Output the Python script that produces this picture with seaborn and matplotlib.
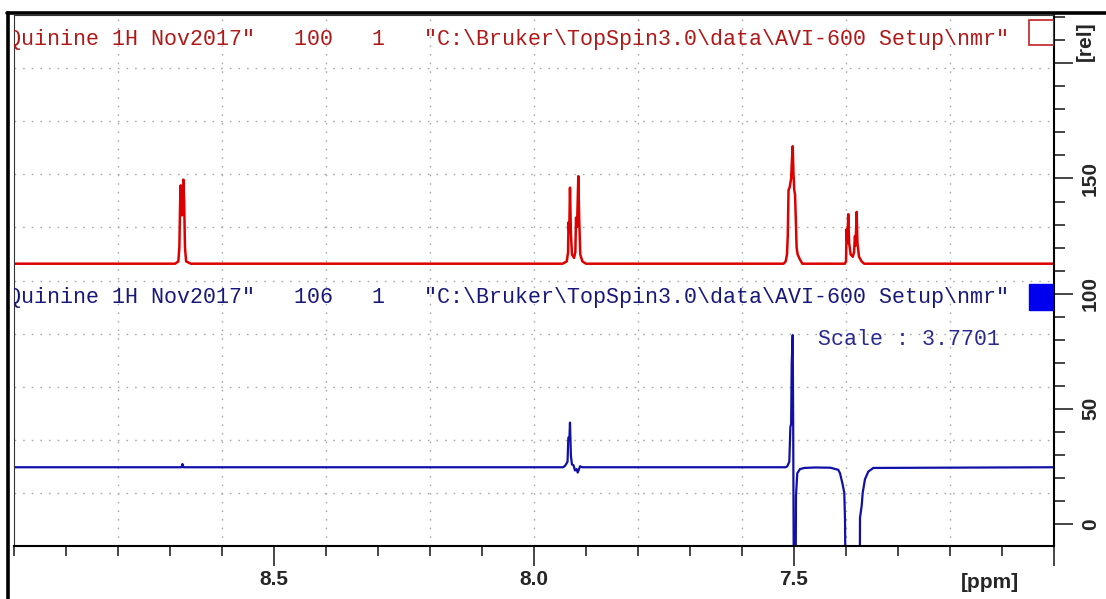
import numpy as np
import pandas as pd
import matplotlib.pyplot as plt
import matplotlib.lines as mlines
from matplotlib.patches import Rectangle
from matplotlib.ticker import MultipleLocator, FixedLocator
import seaborn as sns

# top trace (reference spectrum), vertices: ppm / rel. intensity
red_ppm = [9.0, 8.69, 8.684, 8.682, 8.6805, 8.6795, 8.678, 8.677, 8.6755, 8.6742, 8.6728, 8.6712, 8.669, 8.66,
           7.945, 7.937, 7.9345, 7.9336, 7.9322, 7.9308, 7.929, 7.927, 7.923, 7.9205, 7.9192, 7.9172, 7.9148,
           7.913, 7.911, 7.907, 7.90,
           7.52, 7.516, 7.5135, 7.512, 7.5105, 7.5085, 7.507, 7.5055, 7.504, 7.5025, 7.501, 7.4995, 7.498,
           7.4965, 7.495, 7.493, 7.489, 7.484,
           7.402, 7.4, 7.3988, 7.3975, 7.3957, 7.394, 7.391, 7.387, 7.3845, 7.3828, 7.3815, 7.3795, 7.378,
           7.375, 7.37, 7.365, 7.0]
red_int = [113, 113, 114, 120, 140, 147, 136, 134, 142, 149.5, 140, 120, 114, 113,
           113, 114, 118, 131, 127, 146, 126, 117, 115.5, 118, 133, 129, 151,
           132, 117, 114, 113,
           113, 114, 117, 125, 145, 146, 148, 150, 158, 164, 152, 145, 143,
           132, 120, 117, 115, 113,
           113, 114, 128, 122, 134.5, 122, 117, 116, 118, 125, 121, 135.5, 122,
           116, 114, 113, 113]

# bottom trace (selective experiment, scale 3.7701)
blue_ppm = [9.0, 8.678, 8.676, 8.674,
            7.944, 7.940, 7.9355, 7.934, 7.9318, 7.9308, 7.929, 7.927, 7.924, 7.9212, 7.918, 7.916, 7.913,
            7.9115, 7.907,
            7.516, 7.513, 7.509, 7.507, 7.5055, 7.5044, 7.5025, 7.5015, 7.4998, 7.4975, 7.4962, 7.4937,
            7.4885, 7.48, 7.46, 7.43, 7.415, 7.4115, 7.4063, 7.4033, 7.4019, 7.3995, 7.374, 7.3731, 7.3698,
            7.3679, 7.3635, 7.3571, 7.3475, 7.0]
blue_int = [24.6, 24.6, 26, 24.6,
            24.6, 25.3, 27, 37.4, 38, 44, 29.5, 25.8, 25.5, 23.2, 23.8, 22.3, 24,
            25, 24.6,
            24.6, 25, 27, 42, 43.5, 70, 82, 40, -60, -60, 12, 22,
            23.8, 24.3, 24.5, 24.4, 23.5, 22, 17, 13.5, 2, -60, -60, 2.6, 8,
            13.5, 19.4, 22.7, 24.3, 24.6]

red_title = 'Quinine 1H Nov2017"   100   1   "C:\\Bruker\\TopSpin3.0\\data\\AVI-600 Setup\\nmr"'
blue_title = 'Quinine 1H Nov2017"   106   1   "C:\\Bruker\\TopSpin3.0\\data\\AVI-600 Setup\\nmr"'
scale_text = 'Scale : 3.7701'
x_major = [8.5, 8.0, 7.5, 7.0]
x_labels = ['8.5', '8.0', '7.5', '']
y_major = [0, 50, 100, 150, 200]
y_labels = ['0', '50', '100', '150', '']

sns.set_style("white")
plt.rcParams['font.family'] = ['Liberation Sans', 'DejaVu Sans']

red_df = pd.DataFrame({'ppm': red_ppm, 'rel': red_int})
blue_df = pd.DataFrame({'ppm': blue_ppm, 'rel': blue_int})

fig = plt.figure(figsize=(11.06, 5.99), dpi=100)
ax = fig.add_axes([14/1106, 53/599, 1040/1106, 531/599])

xlim = (9.0, 7.0)
ylim = (-9.6, 221.0)
ax.set_xlim(*xlim)
ax.set_ylim(*ylim)

# TopSpin grid: 10 equal divisions each way
for gx in np.linspace(xlim[0], xlim[1], 11)[1:-1]:
    ax.axvline(gx, color='#aaaaaa', lw=1, ls=(0, (1.2, 5)), zorder=0)
for gy in np.linspace(ylim[0], ylim[1], 11)[1:-1]:
    ax.axhline(gy, color='#aaaaaa', lw=1, ls=(0, (1.2, 5)), zorder=0)

sns.lineplot(data=red_df, x='ppm', y='rel', sort=False, estimator=None, color='#dd0000', lw=1.8, ax=ax)
sns.lineplot(data=blue_df, x='ppm', y='rel', sort=False, estimator=None, color='#1010a8', lw=1.6, ax=ax)

mono = ['Liberation Mono', 'DejaVu Sans Mono']
ax.text(9.0115, 210.2, red_title, family=mono, fontsize=15.6, color='#b01818', va='center', ha='left', clip_on=True)
ax.text(9.0115, 98.3, blue_title, family=mono, fontsize=15.6, color='#18187a', va='center', ha='left', clip_on=True)
ax.text(7.4538, 80, scale_text, family=mono, fontsize=15.6, color='#2a2a90', va='center', ha='left')

ax.add_patch(Rectangle((7.0, 207.8), 0.048, 11.2, fill=False, ec='#c02020', lw=1.2, zorder=5))
ax.add_patch(Rectangle((7.0, 93.0), 0.048, 11.3, fc='#0000ee', ec='#0000ee', lw=1, zorder=5))

# axes / ticks
ax.xaxis.set_major_locator(FixedLocator(x_major))
ax.set_xticklabels(x_labels)
ax.xaxis.set_minor_locator(MultipleLocator(0.1))
ax.yaxis.tick_right()
ax.yaxis.set_major_locator(FixedLocator(y_major))
ax.set_yticklabels(y_labels)
ax.yaxis.set_minor_locator(MultipleLocator(10))
ax.tick_params(axis='x', which='major', length=14.5, width=1.2, direction='out', pad=3,
               labelsize=15, bottom=True)
ax.tick_params(axis='x', which='minor', length=7.5, width=1.2, direction='out', bottom=True)
ax.tick_params(axis='y', which='major', length=13.5, width=1.2, direction='out', pad=6,
               labelsize=15, right=True, left=False, labelrotation=90)
ax.tick_params(axis='y', which='minor', length=8, width=1.2, direction='out', right=True, left=False)
for lab in ax.get_xticklabels() + ax.get_yticklabels():
    lab.set_fontweight('bold')
for lab in ax.get_yticklabels():
    lab.set_va('center')
ax.set_xlabel('')
ax.set_ylabel('')

for side in ['bottom', 'right']:
    ax.spines[side].set_linewidth(1.5)
    ax.spines[side].set_color('black')
ax.spines['left'].set_linewidth(0.8)
ax.spines['left'].set_color('#333333')
ax.spines['top'].set_linewidth(0.8)
ax.spines['top'].set_color('#333333')

ax.text(7.123, -0.05, '[ppm]', transform=ax.get_xaxis_transform(), fontsize=15, fontweight='bold',
        ha='center', va='top')
ax.text(1.030, 209.6, '[rel]', transform=ax.get_yaxis_transform(), fontsize=15, fontweight='bold',
        rotation=90, ha='center', va='center')

# window frame
fig.add_artist(mlines.Line2D([7/1106, 1.0], [1 - 13/599, 1 - 13/599], color='black', lw=2.6))
fig.add_artist(mlines.Line2D([8/1106, 8/1106], [0.0, 1 - 13/599], color='black', lw=2.6))

fig.savefig('out.png', dpi=100)
